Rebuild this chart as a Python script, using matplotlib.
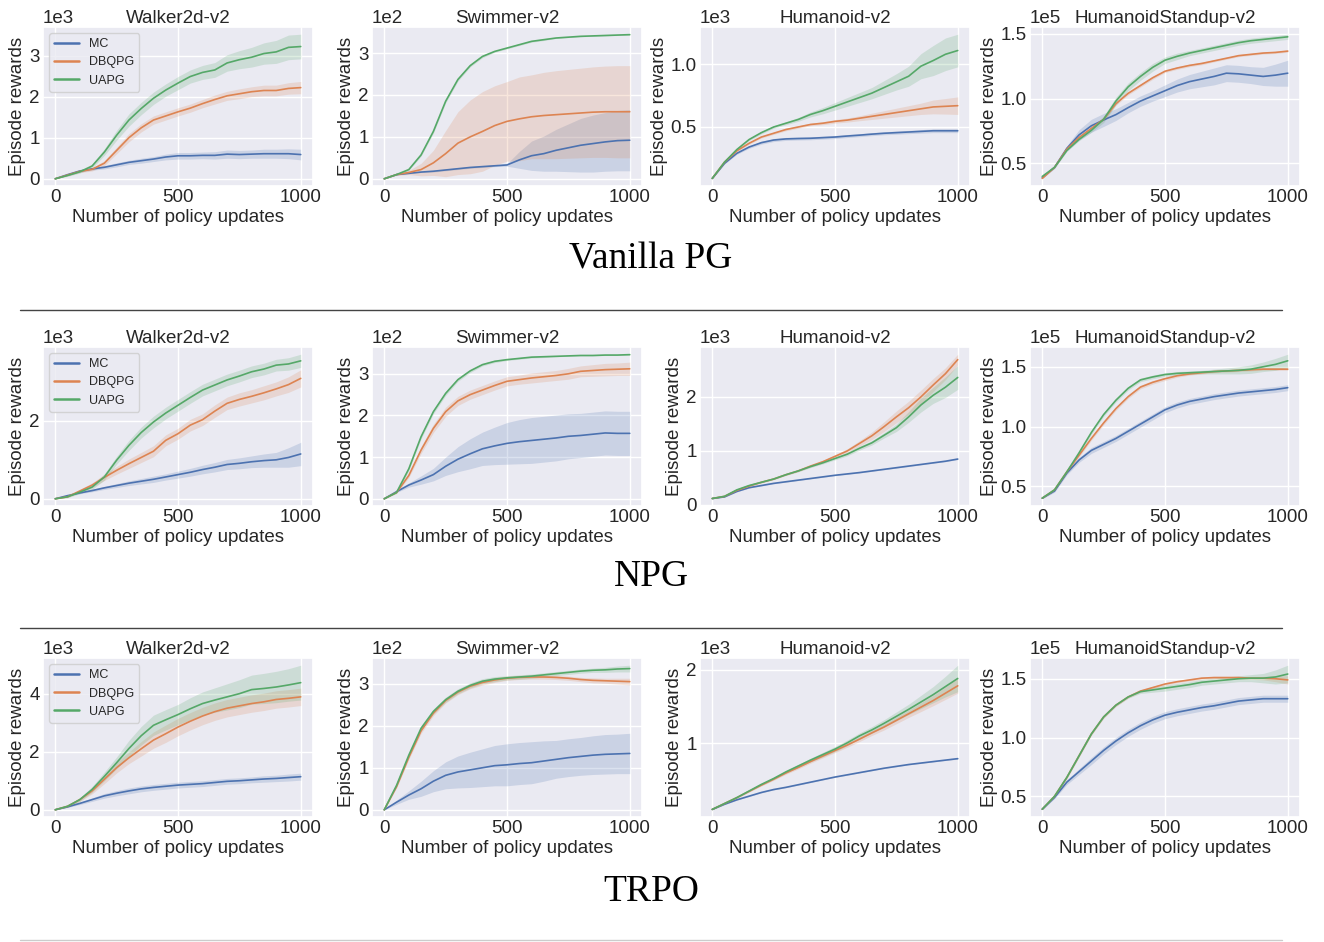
import matplotlib
matplotlib.use("Agg")
import matplotlib.pyplot as plt
import seaborn as sns
import numpy as np
from matplotlib.lines import Line2D

sns.set_theme(style="darkgrid")
plt.rcParams['font.family'] = ['Liberation Sans', 'DejaVu Sans']

steps = list(range(0, 1001, 50))
methods = ["MC", "DBQPG", "UAPG"]
envs = ["Walker2d-v2", "Swimmer-v2", "Humanoid-v2", "HumanoidStandup-v2"]
sections = ["Vanilla PG", "NPG", "TRPO"]
xticks = [0, 500, 1000]

# ---------------- Vanilla PG ----------------
vpg_walker_mc = [0,100,190,240,280,340,400,440,480,530,560,560,570,570,600,590,600,610,610,610,590]
vpg_walker_mc_sd = [0,20,30,30,40,50,50,60,60,70,80,80,80,90,100,100,100,110,110,120,130]
vpg_walker_dbqpg = [0,90,180,230,380,690,1000,1240,1430,1530,1630,1720,1830,1930,2020,2070,2120,2150,2150,2200,2220]
vpg_walker_dbqpg_sd = [0,20,30,40,60,80,100,100,100,100,100,100,100,110,110,120,120,130,130,140,150]
vpg_walker_uapg = [0,80,170,310,650,1060,1430,1710,1960,2160,2330,2490,2590,2650,2820,2900,2960,3050,3090,3200,3220]
vpg_walker_uapg_sd = [0,20,30,50,80,120,150,150,150,150,160,160,170,180,200,220,240,260,280,300,300]

vpg_swimmer_mc = [0,10,13,16,18,21,24,27,29,31,33,45,55,60,68,74,80,84,88,91,92]
vpg_swimmer_mc_sd = [0,1,1,1,2,2,2,2,2,2,3,20,35,42,50,57,64,68,70,72,73]
vpg_swimmer_dbqpg = [0,10,15,22,38,60,85,100,113,127,137,143,148,151,153,155,157,159,160,160,160]
vpg_swimmer_dbqpg_sd = [0,2,5,15,30,55,75,88,95,95,95,100,100,103,105,106,107,108,109,110,110]
vpg_swimmer_uapg = [0,10,22,57,113,185,237,270,292,304,312,320,328,332,336,338,340,341,342,343,344]
vpg_swimmer_uapg_sd = [0,1,2,3,4,4,4,3,3,2,2,2,2,2,1,1,1,1,1,1,1]

vpg_humanoid_mc = [90,210,290,340,375,396,405,408,410,415,420,428,435,443,450,455,460,465,470,470,470]
vpg_humanoid_mc_sd = [3,5,8,10,12,12,12,12,12,12,12,12,12,12,12,13,13,14,15,15,15]
vpg_humanoid_dbqpg = [90,220,310,370,420,450,480,500,520,530,545,555,570,585,600,615,630,645,660,665,670]
vpg_humanoid_dbqpg_sd = [3,5,7,8,8,9,10,10,10,12,14,16,20,25,30,35,40,45,55,62,70]
vpg_humanoid_uapg = [90,220,320,400,455,500,530,560,600,630,665,700,735,770,815,860,905,985,1030,1080,1110]
vpg_humanoid_uapg_sd = [3,5,7,8,10,10,12,15,20,25,30,35,40,45,55,65,80,100,120,130,130]

vpg_standup_mc = [39000,47000,61600,72000,79000,83500,87600,93000,98000,102000,106000,110000,113000,115000,117000,119500,119000,118000,117000,118000,119500]
vpg_standup_mc_sd = [500,1000,2000,4000,5000,5000,4500,4000,4000,4000,4500,5000,5500,6000,6500,6500,6500,6500,7000,8500,10000]
vpg_standup_dbqpg = [38500,47000,61000,70000,77000,84000,96000,104000,110000,116000,121000,123500,125500,127000,129000,131000,133000,134000,135000,135500,136500]
vpg_standup_dbqpg_sd = [300,500,800,1000,1000,1000,1200,1200,1200,1200,1000,1000,1000,1000,800,800,800,800,800,800,800]
vpg_standup_uapg = [40000,47000,60000,68500,75500,84000,98000,109000,117000,124000,129500,132500,135000,137000,139000,141000,143000,144500,145500,146500,147500]
vpg_standup_uapg_sd = [300,500,800,1000,1500,2500,3000,3000,3000,3000,2500,2500,2000,2000,2000,2000,2000,2000,2000,2000,2000]

# ---------------- NPG ----------------
npg_walker_mc = [0,80,150,210,280,340,400,450,500,560,620,680,750,810,880,910,950,980,1000,1060,1150]
npg_walker_mc_sd = [0,10,20,30,40,50,60,70,80,80,90,100,110,120,130,140,150,170,190,250,300]
npg_walker_dbqpg = [0,50,200,350,550,730,900,1060,1220,1500,1670,1890,2030,2250,2450,2550,2630,2720,2820,2930,3090]
npg_walker_dbqpg_sd = [0,20,40,60,80,100,120,130,140,140,140,150,150,160,160,170,170,180,180,200,220]
npg_walker_uapg = [0,50,170,300,560,990,1370,1700,1970,2200,2400,2600,2790,2920,3050,3150,3260,3330,3430,3460,3540]
npg_walker_uapg_sd = [0,20,40,60,80,100,130,140,150,150,150,150,150,150,150,150,150,150,150,160,170]

npg_swimmer_mc = [0,17,33,45,58,78,95,108,120,127,133,137,140,143,146,150,152,155,158,157,157]
npg_swimmer_mc_sd = [0,2,5,10,15,22,30,36,40,45,50,53,55,55,55,54,53,53,53,53,53]
npg_swimmer_dbqpg = [0,15,56,117,169,209,235,250,261,272,282,286,290,293,296,300,306,308,310,311,312]
npg_swimmer_dbqpg_sd = [0,2,5,8,10,11,11,11,11,11,11,11,12,12,12,13,13,14,15,15,16]
npg_swimmer_uapg = [0,15,72,149,209,253,286,307,322,330,334,337,340,341,342,343,344,344,345,345,346]
npg_swimmer_uapg_sd = [0,2,4,5,5,5,4,4,3,3,2,2,2,2,1,1,1,1,1,1,1]

npg_humanoid_mc = [120,150,250,320,360,400,430,460,490,520,550,575,600,630,660,690,720,750,780,810,850]
npg_humanoid_mc_sd = [5,5,8,8,8,8,8,8,8,8,8,8,8,8,8,8,8,8,8,8,10]
npg_humanoid_dbqpg = [120,160,270,350,420,480,560,630,720,800,900,1000,1140,1280,1450,1630,1800,2000,2220,2430,2690]
npg_humanoid_dbqpg_sd = [5,5,8,10,10,10,12,15,20,25,30,40,50,70,90,110,120,125,120,110,100]
npg_humanoid_uapg = [120,160,280,360,420,480,560,630,710,780,860,940,1050,1150,1290,1430,1630,1850,2030,2180,2360]
npg_humanoid_uapg_sd = [5,5,8,10,10,10,12,15,18,20,25,30,35,40,50,70,100,130,150,190,220]

npg_standup_mc = [40000,46000,61000,72000,80000,85000,90000,96000,102000,108000,114000,118000,121000,123000,125000,126500,128000,129000,130000,131000,132500]
npg_standup_mc_sd = [500,1000,1500,2000,2500,2500,2500,2500,2500,2500,2500,2500,2500,2500,2500,2500,2500,2500,2500,2500,2500]
npg_standup_dbqpg = [40000,47000,62000,76000,90000,103000,115000,125000,133000,137000,140000,142500,144000,145000,146000,146500,147000,147500,148000,148000,148000]
npg_standup_dbqpg_sd = [300,500,1000,1500,1500,1500,1500,1500,1500,1500,1500,1200,1000,1000,1000,1000,1000,1000,1000,1000,1000]
npg_standup_uapg = [40000,47000,62000,78000,95000,110000,122000,132000,139000,141500,143500,144500,145000,145500,146000,146500,147000,148000,150000,152000,155000]
npg_standup_uapg_sd = [300,500,1000,1500,1500,1500,1500,1500,1500,1500,1500,1500,1500,1500,2000,2500,3000,3500,4000,5000,5500]

# ---------------- TRPO ----------------
trpo_walker_mc = [0,100,220,350,480,570,650,720,770,810,850,875,900,940,980,1000,1030,1060,1080,1110,1140]
trpo_walker_mc_sd = [0,20,40,60,80,90,100,100,100,100,100,100,100,100,100,100,100,110,110,120,120]
trpo_walker_dbqpg = [0,120,350,650,1050,1450,1790,2100,2400,2620,2850,3050,3230,3380,3500,3580,3660,3720,3800,3840,3890]
trpo_walker_dbqpg_sd = [0,30,60,100,150,180,200,250,280,300,300,300,300,300,300,300,300,300,300,300,300]
trpo_walker_uapg = [0,120,350,700,1150,1620,2110,2550,2910,3100,3280,3480,3660,3780,3890,4000,4140,4180,4230,4300,4380]
trpo_walker_uapg_sd = [0,30,60,100,150,200,280,320,350,350,350,380,400,420,450,480,500,520,540,560,600]

trpo_swimmer_mc = [0,18,35,50,68,82,90,95,100,105,107,110,112,116,120,124,127,130,132,133,134]
trpo_swimmer_mc_sd = [0,5,10,18,25,32,38,42,45,48,50,50,50,48,45,45,45,46,47,47,48]
trpo_swimmer_dbqpg = [0,55,125,188,230,260,280,294,303,309,313,315,316,316,315,313,310,308,307,306,305]
trpo_swimmer_dbqpg_sd = [0,3,5,6,6,6,6,6,6,6,5,5,5,5,5,5,5,6,6,7,8]
trpo_swimmer_uapg = [0,58,130,194,234,262,282,296,306,311,314,316,318,321,324,327,330,332,333,335,336]
trpo_swimmer_uapg_sd = [0,3,5,6,6,6,6,6,6,6,5,5,5,5,5,5,5,5,6,7,8]

trpo_humanoid_mc = [100,170,230,280,330,370,400,435,470,505,540,570,600,630,660,685,710,730,750,770,790]
trpo_humanoid_mc_sd = [5,5,5,5,5,5,5,5,5,5,5,5,5,5,5,5,5,5,5,5,8]
trpo_humanoid_dbqpg = [100,180,260,345,430,510,595,670,750,825,900,975,1055,1140,1220,1310,1400,1490,1580,1680,1780]
trpo_humanoid_dbqpg_sd = [5,5,8,10,12,15,18,20,22,25,28,30,32,35,40,45,50,60,70,85,100]
trpo_humanoid_uapg = [100,180,260,350,440,520,610,690,770,845,920,1005,1100,1180,1270,1365,1460,1560,1660,1770,1880]
trpo_humanoid_uapg_sd = [5,5,8,10,12,15,18,20,25,30,35,38,40,45,50,60,70,90,110,140,180]

trpo_standup_mc = [39000,49000,62000,71000,80000,89000,97000,104000,110000,115000,119000,121500,123500,125500,127000,129000,131000,132000,133000,133000,133000]
trpo_standup_mc_sd = [500,1000,2000,2500,3000,3000,3000,3000,3000,3000,3000,3000,3000,3000,3000,3000,3000,3000,3000,3000,3000]
trpo_standup_dbqpg = [39000,50000,66000,84500,103000,117500,127500,134500,139500,142500,145500,147500,149000,150500,151000,151000,151000,150500,150500,150000,149000]
trpo_standup_dbqpg_sd = [300,500,1000,1000,1000,1000,1000,1000,1000,1000,1000,1000,1000,1000,1000,1000,1000,1000,1500,2500,3500]
trpo_standup_uapg = [39000,50000,66000,84500,103000,117500,127500,134500,139000,140500,142000,143500,145000,147000,148000,149000,150000,150500,150500,151500,154000]
trpo_standup_uapg_sd = [300,500,1000,1000,1000,1000,1000,1000,1500,2000,2500,2500,2500,2500,2500,2500,2500,3000,4000,6000,7500]

# y ticks per panel (row: section, col: env)
yticks_rows = [
    [[0, 1000, 2000, 3000], [0, 100, 200, 300], [500, 1000], [50000, 100000, 150000]],
    [[0, 2000], [0, 100, 200, 300], [0, 1000, 2000], [50000, 100000, 150000]],
    [[0, 2000, 4000], [0, 100, 200, 300], [1000, 2000], [50000, 100000, 150000]],
]

data = {
    (0, 0): [(vpg_walker_mc, vpg_walker_mc_sd), (vpg_walker_dbqpg, vpg_walker_dbqpg_sd), (vpg_walker_uapg, vpg_walker_uapg_sd)],
    (0, 1): [(vpg_swimmer_mc, vpg_swimmer_mc_sd), (vpg_swimmer_dbqpg, vpg_swimmer_dbqpg_sd), (vpg_swimmer_uapg, vpg_swimmer_uapg_sd)],
    (0, 2): [(vpg_humanoid_mc, vpg_humanoid_mc_sd), (vpg_humanoid_dbqpg, vpg_humanoid_dbqpg_sd), (vpg_humanoid_uapg, vpg_humanoid_uapg_sd)],
    (0, 3): [(vpg_standup_mc, vpg_standup_mc_sd), (vpg_standup_dbqpg, vpg_standup_dbqpg_sd), (vpg_standup_uapg, vpg_standup_uapg_sd)],
    (1, 0): [(npg_walker_mc, npg_walker_mc_sd), (npg_walker_dbqpg, npg_walker_dbqpg_sd), (npg_walker_uapg, npg_walker_uapg_sd)],
    (1, 1): [(npg_swimmer_mc, npg_swimmer_mc_sd), (npg_swimmer_dbqpg, npg_swimmer_dbqpg_sd), (npg_swimmer_uapg, npg_swimmer_uapg_sd)],
    (1, 2): [(npg_humanoid_mc, npg_humanoid_mc_sd), (npg_humanoid_dbqpg, npg_humanoid_dbqpg_sd), (npg_humanoid_uapg, npg_humanoid_uapg_sd)],
    (1, 3): [(npg_standup_mc, npg_standup_mc_sd), (npg_standup_dbqpg, npg_standup_dbqpg_sd), (npg_standup_uapg, npg_standup_uapg_sd)],
    (2, 0): [(trpo_walker_mc, trpo_walker_mc_sd), (trpo_walker_dbqpg, trpo_walker_dbqpg_sd), (trpo_walker_uapg, trpo_walker_uapg_sd)],
    (2, 1): [(trpo_swimmer_mc, trpo_swimmer_mc_sd), (trpo_swimmer_dbqpg, trpo_swimmer_dbqpg_sd), (trpo_swimmer_uapg, trpo_swimmer_uapg_sd)],
    (2, 2): [(trpo_humanoid_mc, trpo_humanoid_mc_sd), (trpo_humanoid_dbqpg, trpo_humanoid_dbqpg_sd), (trpo_humanoid_uapg, trpo_humanoid_uapg_sd)],
    (2, 3): [(trpo_standup_mc, trpo_standup_mc_sd), (trpo_standup_dbqpg, trpo_standup_dbqpg_sd), (trpo_standup_uapg, trpo_standup_uapg_sd)],
}

colors = ["#4C72B0", "#DD8452", "#55A868"]

W, H = 1324, 942
fig = plt.figure(figsize=(W / 100, H / 100), dpi=100)

col_left = [43, 372, 700, 1030]
ax_w = 270
row_top = [27, 347, 658]
ax_h = 159
FS = 13.5

x = np.array(steps)
for r in range(3):
    for c in range(4):
        ax = fig.add_axes([col_left[c] / W, 1 - (row_top[r] + ax_h) / H, ax_w / W, ax_h / H])
        for k, (m, sd) in enumerate(data[(r, c)]):
            m = np.array(m, float)
            sd = np.array(sd, float)
            ax.fill_between(x, m - sd, m + sd, color=colors[k], alpha=0.2, linewidth=0)
            ax.plot(x, m, color=colors[k], lw=1.2, label=methods[k])
        ax.set_xticks(xticks)
        ax.set_yticks(yticks_rows[r][c])
        ax.ticklabel_format(axis='y', style='sci', scilimits=(0, 0))
        ax.yaxis.get_offset_text().set_fontsize(FS)
        ax.tick_params(labelsize=FS, length=0, pad=2.5)
        ax.set_title(envs[c], fontsize=FS, pad=3)
        ax.set_xlabel("Number of policy updates", fontsize=FS, labelpad=1.5)
        ax.set_ylabel("Episode rewards", fontsize=FS, labelpad=2)
        if c == 0:
            leg = ax.legend(loc="upper left", fontsize=9, frameon=True)
            for h in leg.get_lines():
                h.set_linewidth(1.8)

serif = ['Liberation Serif', 'DejaVu Serif']
title_y = [259, 577, 892]
for r in range(3):
    fig.text(651 / W, 1 - title_y[r] / H, sections[r], ha='center', va='center',
             fontsize=27, family=serif, color='black')

line_y = [310, 628]
for yy in line_y:
    fig.add_artist(Line2D([20 / W, 1282 / W], [1 - yy / H, 1 - yy / H], color='#444444', lw=1.0))
fig.add_artist(Line2D([20 / W, 1282 / W], [1 - 940 / H, 1 - 940 / H], color='#cccccc', lw=1.0))

fig.savefig("out.png", dpi=100)
